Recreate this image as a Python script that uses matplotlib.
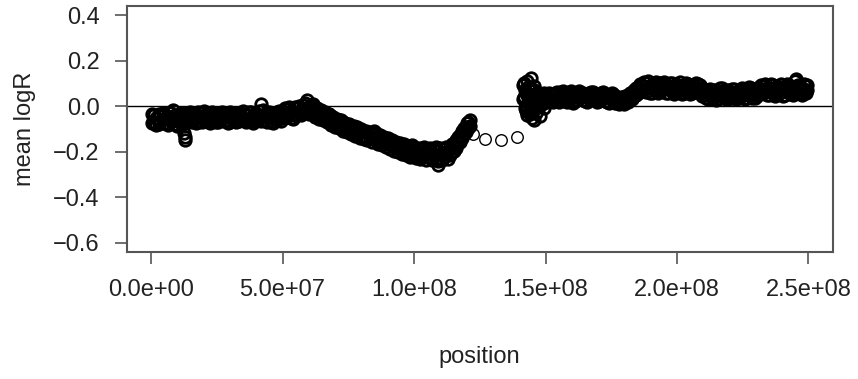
import matplotlib
matplotlib.use("Agg")
import matplotlib.pyplot as plt

plt.rcParams['font.family'] = ['Liberation Sans', 'DejaVu Sans']

# positions in Mb, mean logR per window (two probe sets per window)
p_arm_pos = [
    0.5, 1.3, 2.0, 2.9, 3.6, 4.4, 5.1, 5.9, 6.6, 7.5, 8.2, 9.0, 9.7, 10.5, 11.3, 12.0,
    12.6, 12.9, 13.1, 13.4, 14.1, 14.9, 15.6, 16.4, 17.2, 17.9, 18.7, 19.5, 20.2, 21.0,
    21.8, 22.5, 23.3, 24.1, 24.8, 25.6, 26.4, 27.1, 27.9, 28.7, 29.4, 30.2, 31.0, 31.7,
    32.5, 33.3, 34.0, 34.8, 35.6, 36.3, 37.1, 37.9, 38.6, 39.4, 40.2, 40.9, 41.7, 42.5,
    43.2, 44.0, 44.8, 45.5, 46.3, 47.1, 47.8, 48.6, 49.4, 50.1, 50.9, 51.7, 52.4, 53.2,
    54.0, 54.7, 55.5, 56.3, 57.0, 57.8, 58.6, 59.3, 60.1, 60.9, 61.6, 62.4, 63.2, 63.9,
    64.7, 65.5, 66.2, 67.0, 67.8, 68.5, 69.3, 70.1, 70.8, 71.6, 72.4, 73.1, 73.9, 74.7,
    75.4, 76.2, 77.0, 77.7, 78.5, 79.3, 80.0, 80.8, 81.6, 82.3, 83.1, 83.9, 84.6, 85.4,
    86.2, 86.9, 87.7, 88.5, 89.2, 90.0, 90.8, 91.5, 92.3, 93.1, 93.8, 94.6, 95.4, 96.1,
    96.9, 97.7, 98.4, 99.2, 100.0, 100.7, 101.5, 102.3, 103.0, 103.8, 104.6, 105.3, 106.1,
    106.9, 107.6, 108.4, 109.0, 109.2, 110.0, 110.7, 111.5, 112.3, 113.0, 113.8, 114.6,
    115.3, 116.1, 116.9, 117.6, 118.4, 119.1, 119.6, 120.2, 120.7, 121.1,
]
p_arm_logr_a = [
    -0.035, -0.068, -0.050, -0.076, -0.044, -0.058, -0.032, -0.072, -0.047, -0.063, -0.015,
    -0.079, -0.054, -0.036, -0.066, -0.049, -0.118, -0.135, -0.150, -0.060, -0.034, -0.057,
    -0.030, -0.062, -0.041, -0.070, -0.045, -0.028, -0.059, -0.038, -0.066, -0.048, -0.025,
    -0.060, -0.043, -0.071, -0.036, -0.052, -0.030, -0.064, -0.047, -0.069, -0.034, -0.055,
    -0.040, -0.067, -0.029, -0.050, -0.062, -0.038, -0.057, -0.026, -0.048, -0.065, -0.033,
    -0.054, 0.010, -0.044, -0.060, -0.031, -0.052, -0.068, -0.039, -0.057, -0.027, -0.047,
    -0.063, -0.021, -0.044, -0.012, -0.035, -0.050, -0.024, -0.038, -0.008, -0.030, -0.020,
    0.004, -0.025, 0.027, -0.005, -0.022, 0.008, -0.015, -0.037, -0.020, -0.042, -0.028,
    -0.050, -0.034, -0.058, -0.041, -0.072, -0.055, -0.078, -0.062, -0.085, -0.070, -0.098,
    -0.081, -0.104, -0.090, -0.112, -0.095, -0.118, -0.102, -0.129, -0.110, -0.135, -0.117,
    -0.140, -0.124, -0.108, -0.148, -0.130, -0.155, -0.137, -0.160, -0.144, -0.168, -0.150,
    -0.176, -0.158, -0.183, -0.165, -0.190, -0.172, -0.197, -0.180, -0.205, -0.186, -0.170,
    -0.212, -0.193, -0.218, -0.200, -0.183, -0.220, -0.205, -0.190, -0.225, -0.208, -0.186,
    -0.215, -0.258, -0.198, -0.228, -0.204, -0.189, -0.215, -0.196, -0.182, -0.200, -0.168,
    -0.150, -0.163, -0.128, -0.110, -0.122, -0.090, -0.075, -0.095, -0.062,
]
p_arm_logr_b = [
    -0.072, -0.040, -0.081, -0.033, -0.070, -0.029, -0.075, -0.042, -0.084, -0.030, -0.061,
    -0.038, -0.088, -0.069, -0.028, -0.077, -0.060, -0.036, -0.071, -0.031, -0.066, -0.025,
    -0.068, -0.033, -0.074, -0.027, -0.063, -0.069, -0.022, -0.064, -0.030, -0.072, -0.058,
    -0.028, -0.070, -0.035, -0.062, -0.024, -0.067, -0.031, -0.074, -0.026, -0.061, -0.029,
    -0.071, -0.033, -0.060, -0.023, -0.036, -0.069, -0.027, -0.064, -0.075, -0.030, -0.058,
    -0.022, -0.066, -0.018, -0.032, -0.070, -0.025, -0.040, -0.072, -0.028, -0.061, -0.020,
    -0.036, -0.052, -0.010, -0.048, -0.005, -0.022, -0.055, -0.004, -0.040, 0.002, -0.040,
    -0.030, 0.012, -0.018, -0.033, 0.006, -0.030, -0.048, -0.008, -0.055, -0.016, -0.062,
    -0.025, -0.070, -0.036, -0.082, -0.047, -0.090, -0.058, -0.095, -0.060, -0.108, -0.072,
    -0.115, -0.080, -0.122, -0.088, -0.130, -0.093, -0.138, -0.100, -0.145, -0.108, -0.150,
    -0.112, -0.158, -0.140, -0.118, -0.165, -0.128, -0.172, -0.135, -0.180, -0.140, -0.188,
    -0.148, -0.195, -0.155, -0.202, -0.162, -0.210, -0.168, -0.214, -0.175, -0.222, -0.206,
    -0.178, -0.228, -0.184, -0.232, -0.215, -0.180, -0.236, -0.222, -0.182, -0.238, -0.220,
    -0.178, -0.240, -0.232, -0.185, -0.236, -0.225, -0.180, -0.230, -0.215, -0.165, -0.198,
    -0.185, -0.135, -0.158, -0.140, -0.095, -0.115, -0.100, -0.068, -0.085,
]

gap_pos = [122.4, 127.0, 133.0, 139.3]
gap_logr = [-0.120, -0.143, -0.150, -0.136]

q_arm_pos = [
    141.6, 141.9, 142.2, 142.5, 142.8, 143.1, 143.4, 143.7, 144.0, 144.3, 144.6, 144.9,
    145.2, 145.5, 145.8, 146.1, 146.4, 146.7, 147.0, 147.4, 147.8, 148.2, 148.6, 149.0,
    149.5, 150.0, 150.6, 151.3, 152.1, 152.8, 153.6, 154.4, 155.1, 155.9, 156.7, 157.4,
    158.2, 159.0, 159.7, 160.5, 161.3, 162.0, 162.8, 163.6, 164.3, 165.1, 165.9, 166.6,
    167.4, 168.2, 168.9, 169.7, 170.5, 171.2, 172.0, 172.8, 173.5, 174.3, 175.1, 175.8,
    176.6, 177.4, 178.1, 178.9, 179.7, 180.4, 181.2, 182.0, 182.7, 183.5, 184.3, 185.0,
    185.8, 186.6, 187.3, 188.1, 188.9, 189.6, 190.4, 191.2, 191.9, 192.7, 193.5, 194.2,
    195.0, 195.8, 196.5, 197.3, 198.1, 198.8, 199.6, 200.4, 201.1, 201.9, 202.7, 203.4,
    204.2, 205.0, 205.7, 206.5, 207.3, 208.0, 208.8, 209.6, 210.3, 211.1, 211.9, 212.6,
    213.4, 214.2, 214.9, 215.7, 216.5, 217.2, 218.0, 218.8, 219.5, 220.3, 221.1, 221.8,
    222.6, 223.4, 224.1, 224.9, 225.7, 226.4, 227.2, 228.0, 228.7, 229.5, 230.3, 231.0,
    231.8, 232.6, 233.3, 234.1, 234.9, 235.6, 236.4, 237.2, 237.9, 238.7, 239.5, 240.2,
    241.0, 241.8, 242.5, 243.3, 244.1, 244.8, 245.4, 246.0, 246.8, 247.5, 248.3, 249.0,
    249.6,
]
q_arm_logr_a = [
    0.095, 0.040, -0.010, 0.060, -0.040, 0.110, 0.020, -0.025, 0.075, 0.005, 0.124, -0.050,
    0.045, -0.062, 0.090, 0.015, -0.030, 0.060, 0.000, 0.035, -0.045, 0.050, 0.010, 0.030,
    -0.010, 0.025, 0.045, 0.028, 0.050, 0.020, 0.058, 0.035, 0.018, 0.062, 0.040, 0.025,
    0.055, 0.032, 0.067, 0.044, 0.021, 0.052, 0.036, 0.060, 0.027, 0.048, 0.019, 0.056,
    0.038, 0.064, 0.030, 0.047, 0.022, 0.058, 0.034, 0.050, 0.017, 0.041, 0.060, 0.029,
    0.046, 0.020, 0.038, 0.012, 0.030, 0.045, 0.018, 0.035, 0.055, 0.070, 0.048, 0.085,
    0.062, 0.095, 0.072, 0.100, 0.080, 0.060, 0.092, 0.075, 0.105, 0.083, 0.065, 0.097,
    0.078, 0.058, 0.090, 0.072, 0.102, 0.081, 0.063, 0.094, 0.076, 0.055, 0.088, 0.068,
    0.099, 0.079, 0.060, 0.091, 0.073, 0.096, 0.066, 0.078, 0.050, 0.035, 0.068, 0.045,
    0.072, 0.038, 0.060, 0.030, 0.082, 0.052, 0.040, 0.066, 0.033, 0.058, 0.076, 0.044,
    0.062, 0.036, 0.070, 0.048, 0.031, 0.064, 0.085, 0.050, 0.038, 0.067, 0.045, 0.080,
    0.058, 0.090, 0.066, 0.048, 0.082, 0.062, 0.095, 0.070, 0.052, 0.085, 0.064, 0.045,
    0.078, 0.098, 0.060, 0.083, 0.050, 0.110, 0.072, 0.092, 0.058, 0.080, 0.065, 0.088,
    0.070,
]
q_arm_logr_b = [
    0.030, 0.100, 0.070, -0.020, 0.050, 0.000, 0.085, 0.040, -0.035, 0.065, 0.030, 0.010,
    -0.020, 0.070, 0.020, 0.055, 0.040, 0.005, 0.045, 0.060, 0.020, 0.015, 0.055, 0.045,
    0.060, 0.040, 0.020, 0.058, 0.024, 0.054, 0.030, 0.062, 0.048, 0.026, 0.066, 0.052,
    0.020, 0.060, 0.035, 0.016, 0.056, 0.028, 0.065, 0.040, 0.058, 0.022, 0.050, 0.030,
    0.062, 0.036, 0.054, 0.018, 0.052, 0.028, 0.063, 0.024, 0.048, 0.016, 0.033, 0.055,
    0.014, 0.042, 0.010, 0.040, 0.008, 0.020, 0.048, 0.060, 0.032, 0.045, 0.078, 0.058,
    0.098, 0.068, 0.108, 0.062, 0.110, 0.090, 0.058, 0.104, 0.066, 0.056, 0.100, 0.070,
    0.108, 0.088, 0.060, 0.104, 0.070, 0.055, 0.098, 0.066, 0.106, 0.084, 0.058, 0.100,
    0.064, 0.052, 0.094, 0.062, 0.102, 0.070, 0.092, 0.045, 0.074, 0.062, 0.032, 0.075,
    0.040, 0.070, 0.028, 0.066, 0.046, 0.078, 0.070, 0.030, 0.072, 0.034, 0.042, 0.074,
    0.030, 0.068, 0.040, 0.078, 0.060, 0.034, 0.050, 0.080, 0.070, 0.036, 0.078, 0.052,
    0.092, 0.060, 0.098, 0.080, 0.050, 0.096, 0.064, 0.046, 0.088, 0.056, 0.098, 0.076,
    0.048, 0.066, 0.094, 0.052, 0.086, 0.070, 0.118, 0.060, 0.090, 0.050, 0.096, 0.058,
    0.095,
]

assert len(p_arm_pos) == len(p_arm_logr_a) == len(p_arm_logr_b)
assert len(q_arm_pos) == len(q_arm_logr_a) == len(q_arm_logr_b)

x_ticks = [0, 5e7, 1e8, 1.5e8, 2e8, 2.5e8]
x_tick_labels = ["0.0e+00", "5.0e+07", "1.0e+08", "1.5e+08", "2.0e+08", "2.5e+08"]
y_ticks = [-0.6, -0.4, -0.2, 0.0, 0.2, 0.4]

fig = plt.figure(figsize=(8.58, 3.79), dpi=100)
ax = fig.add_axes([0.1477, 0.3351, 0.8228, 0.6491])

# dense arms overplot heavily -> heavier ring edges so the band reads solid
series = [
    (p_arm_pos, p_arm_logr_a, 2.0), (p_arm_pos, p_arm_logr_b, 2.0),
    (gap_pos, gap_logr, 1.0),
    (q_arm_pos, q_arm_logr_a, 2.0), (q_arm_pos, q_arm_logr_b, 2.0),
]
for pos, vals, ew in series:
    ax.plot([p * 1e6 for p in pos], vals, linestyle='none', marker='o', ms=8.3,
            mfc='none', mec='black', mew=ew)

ax.axhline(0, color='black', lw=1.0, zorder=0)

ax.set_xlim(-9.24e6, 2.592e8)
ax.set_ylim(-0.64, 0.44)
ax.set_xticks(x_ticks)
ax.set_xticklabels(x_tick_labels)
ax.set_yticks(y_ticks)
ax.set_yticklabels([f"{v:.1f}".replace('-', '\u2212') for v in y_ticks])

for s in ax.spines.values():
    s.set_color('#555555')
    s.set_linewidth(1.5)
ax.tick_params(length=8.5, width=1.2, color='#555555', labelsize=17, pad=11,
               labelcolor='#222222')

ax.set_xlabel("position", fontsize=17, color='#222222', labelpad=32)
ax.set_ylabel("mean logR", fontsize=17, color='#222222', labelpad=12)

fig.savefig("out.png", dpi=100)
